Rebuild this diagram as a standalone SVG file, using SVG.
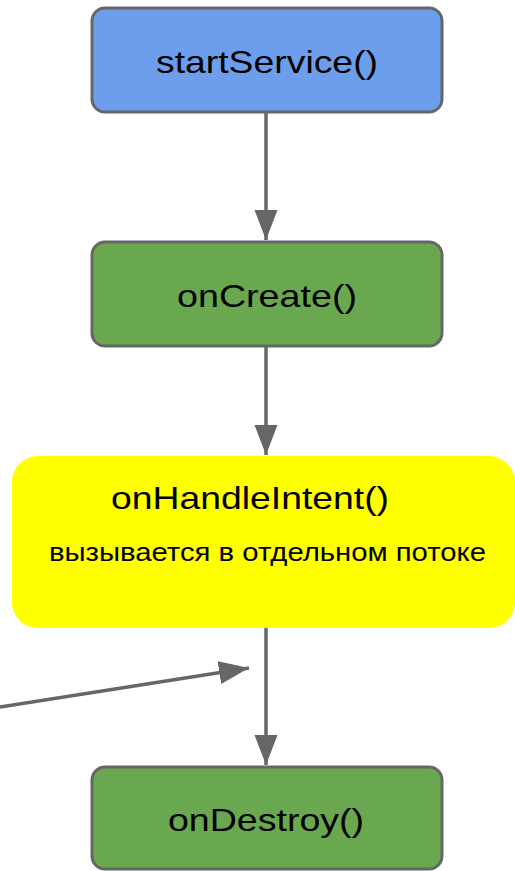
<svg xmlns="http://www.w3.org/2000/svg" width="515" height="871" viewBox="0 0 515 871">
<style>
.box{stroke:#666666;stroke-width:3}
.t{font-family:"Liberation Sans",Arial,sans-serif;fill:#000}
.c{stroke:#666666;stroke-width:3.5;fill:none}
</style>
<defs>
<marker id="ah" markerUnits="userSpaceOnUse" markerWidth="31" markerHeight="24" refX="30" refY="11.5" orient="auto">
<path d="M0,0 L30,11.5 L0,23 z" fill="#666666"/>
</marker>
</defs>
<rect width="515" height="871" fill="#ffffff"/>
<g id="connectors">
<line class="c" x1="266" y1="113" x2="266" y2="240" marker-end="url(#ah)"/>
<line class="c" x1="266" y1="347" x2="266" y2="455" marker-end="url(#ah)"/>
<line class="c" x1="266" y1="628" x2="266" y2="765" marker-end="url(#ah)"/>
<line class="c" x1="0" y1="707" x2="249" y2="668" marker-end="url(#ah)"/>
</g>
<g id="startService">
<rect class="box" x="92" y="8" width="350" height="104" rx="13" fill="#6d9eeb"/>
<text class="t" x="156" y="73" font-size="32" textLength="222" lengthAdjust="spacingAndGlyphs">startService()</text>
</g>
<g id="onCreate">
<rect class="box" x="92" y="242" width="350" height="104" rx="13" fill="#6aa84f"/>
<text class="t" x="177" y="307" font-size="32" textLength="180" lengthAdjust="spacingAndGlyphs">onCreate()</text>
</g>
<g id="onHandleIntent">
<rect x="12" y="456" width="503" height="172" rx="26" fill="#ffff00"/>
<text class="t" x="111" y="509" font-size="32" textLength="278" lengthAdjust="spacingAndGlyphs">onHandleIntent()</text>
<text class="t" x="49" y="561" font-size="26" textLength="437" lengthAdjust="spacingAndGlyphs">вызывается в отдельном потоке</text>
</g>
<g id="onDestroy">
<rect class="box" x="92" y="767" width="350" height="102" rx="13" fill="#6aa84f"/>
<text class="t" x="168" y="831" font-size="32" textLength="196" lengthAdjust="spacingAndGlyphs">onDestroy()</text>
</g>
</svg>
